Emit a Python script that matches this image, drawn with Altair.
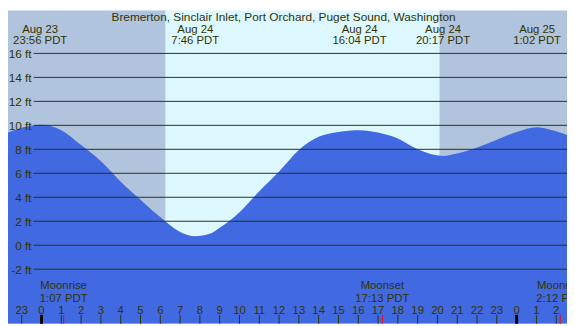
import altair as alt
import pandas as pd

# ---- data ----
# hours since Aug 24 00:00 PDT, tide height in ft
tide_hour = [-3, -2, -1, -0.067, 1, 2, 3, 4, 5, 6, 7, 7.767, 8.5, 9, 10, 11, 12, 13, 14, 15,
             16.067, 17, 18, 19, 20.283, 21, 22, 23, 24, 25.033, 26, 27]
tide_ft = [8.5, 9.2, 9.8, 10.05, 9.6, 8.35, 7.0, 5.3, 3.8, 2.35, 1.1, 0.75, 0.95, 1.45, 2.75, 4.5, 6.15, 7.95, 9.05, 9.45,
           9.6, 9.4, 8.9, 8.0, 7.45, 7.65, 8.15, 8.8, 9.45, 9.85, 9.5, 8.9]

ext_hour = [-0.067, 7.767, 16.067, 20.283, 25.033]
ext_date = ["Aug 23", "Aug 24", "Aug 24", "Aug 24", "Aug 25"]
ext_time = ["23:56 PDT", "7:46 PDT", "16:04 PDT", "20:17 PDT", "1:02 PDT"]

moon_hour = [1.117, 17.217, 26.2]
moon_event = ["Moonrise", "Moonset", "Moonrise"]
moon_time = ["1:07 PDT", "17:13 PDT", "2:12 PDT"]

sun_start = [-3, 6.27, 20.1]
sun_end = [6.27, 20.1, 28]
sun_kind = ["night", "day", "night"]

grid_ft = [-2, 0, 2, 4, 6, 8, 10, 12, 14, 16]
grid_label = [f"{v} ft" for v in grid_ft]

hour_ticks = list(range(-1, 27))
hour_labels = [str(h % 24) for h in hour_ticks]
midnight_hours = [0, 24]

title_text = "Bremerton, Sinclair Inlet, Port Orchard, Puget Sound, Washington"

# ---- chart ----
W, H = 567, 318
FONT = "Liberation Sans"
TXT = "#333300"

xs = alt.Scale(domain=[-1.693, 26.544], nice=False, zero=False)
ys = alt.Scale(domain=[-6.55, 19.6], nice=False, zero=False)

sun_df = pd.DataFrame({"s": sun_start, "e": sun_end, "k": sun_kind})
bg = alt.Chart(sun_df).mark_rect(clip=True).encode(
    x=alt.X("s:Q", scale=xs, axis=None),
    x2="e:Q",
    y=alt.value(0),
    y2=alt.value(H),
    color=alt.Color("k:N", scale=alt.Scale(domain=["night", "day"], range=["#B0C4DE", "#DDF7FE"]), legend=None),
)

tide_df = pd.DataFrame({"h": tide_hour, "ft": tide_ft})
area = alt.Chart(tide_df).mark_area(color="#4169E1", interpolate="monotone", clip=True).encode(
    x=alt.X("h:Q", scale=xs, axis=None),
    y=alt.Y("ft:Q", scale=ys, axis=None),
    y2=alt.datum(-6.55),
)

grid_df = pd.DataFrame({"ft": grid_ft, "lab": grid_label})
grid = alt.Chart(grid_df).mark_rule(color=TXT, strokeWidth=1).encode(
    y=alt.Y("ft:Q", scale=ys, axis=None),
    x=alt.value(26),
    x2=alt.value(W),
)
ylab = alt.Chart(grid_df).mark_text(align="right", baseline="middle", fontSize=12, font=FONT, color=TXT, dy=0.5).encode(
    y=alt.Y("ft:Q", scale=ys, axis=None),
    x=alt.value(24),
    text="lab:N",
)

title = alt.Chart(pd.DataFrame({"t": [title_text]})).mark_text(
    align="center", baseline="alphabetic", fontSize=12, font=FONT, color=TXT
).encode(x=alt.value(279.5), y=alt.value(11), text="t:N")

ext_df = pd.DataFrame({"h": ext_hour, "d": ext_date, "t": ext_time})
ext_d = alt.Chart(ext_df).mark_text(align="center", baseline="alphabetic", fontSize=11.5, font=FONT, color=TXT).encode(
    x=alt.X("h:Q", scale=xs, axis=None), y=alt.value(23), text="d:N")
ext_t = alt.Chart(ext_df).mark_text(align="center", baseline="alphabetic", fontSize=11.5, font=FONT, color=TXT).encode(
    x=alt.X("h:Q", scale=xs, axis=None), y=alt.value(34.5), text="t:N")

moon_df = pd.DataFrame({"h": moon_hour, "e": moon_event, "t": moon_time})
moon_e = alt.Chart(moon_df).mark_text(align="center", baseline="alphabetic", fontSize=11.5, font=FONT, color=TXT).encode(
    x=alt.X("h:Q", scale=xs, axis=None), y=alt.value(283), text="e:N")
moon_t = alt.Chart(moon_df).mark_text(align="center", baseline="alphabetic", fontSize=11.5, font=FONT, color=TXT).encode(
    x=alt.X("h:Q", scale=xs, axis=None), y=alt.value(295.5), text="t:N")

hour_df = pd.DataFrame({"h": hour_ticks, "lab": hour_labels})
hlab = alt.Chart(hour_df).mark_text(align="center", baseline="alphabetic", fontSize=11.5, font=FONT, color=TXT).encode(
    x=alt.X("h:Q", scale=xs, axis=None), y=alt.value(308), text="lab:N")
hticks = alt.Chart(hour_df).mark_rule(color=TXT, strokeWidth=1).encode(
    x=alt.X("h:Q", scale=xs, axis=None), y=alt.value(309), y2=alt.value(H))
mid_ticks = alt.Chart(pd.DataFrame({"h": midnight_hours})).mark_rule(color="#000000", strokeWidth=3).encode(
    x=alt.X("h:Q", scale=xs, axis=None), y=alt.value(309), y2=alt.value(H))
moon_ticks = alt.Chart(moon_df).mark_rule(color="#FF0000", strokeWidth=1).encode(
    x=alt.X("h:Q", scale=xs, axis=None), y=alt.value(309), y2=alt.value(H))

chart = alt.layer(
    bg, area, grid, ylab, title, ext_d, ext_t, moon_e, moon_t, hlab, hticks, mid_ticks, moon_ticks
).properties(
    width=W, height=H, padding=0, autosize=alt.AutoSizeParams(type="none")
).configure_view(stroke=None)

chart.save("out.html", embed_options={"renderer": "svg", "actions": False})
